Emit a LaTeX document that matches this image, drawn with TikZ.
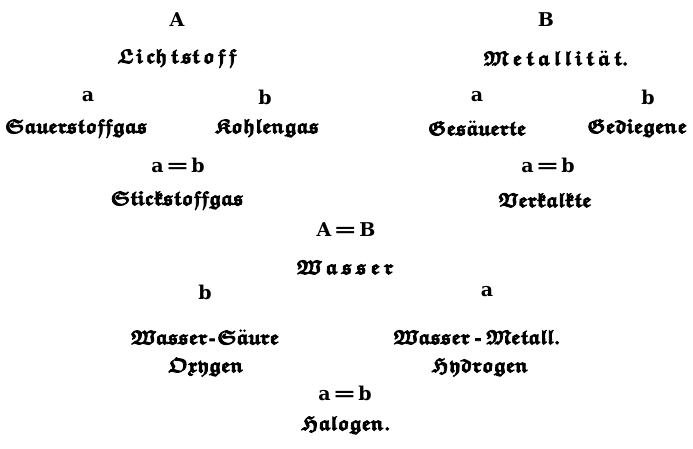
\documentclass[tikz,border=0pt]{standalone}
\usepackage{fontspec}
\usepackage{graphicx}
\usepackage{tikz}
\newfontfamily\lettfont{DejaVu Serif}

\newcommand{\frakfont}{\usefont{U}{euf}{b}{n}}
\newcommand{\heavy}[1]{\special{pdf:literal direct 2 Tr 0.8 w}#1\special{pdf:literal direct 0 Tr}}
\newcommand{\hyph}{\kern1.5pt{\fontsize{16}{20}\lettfont\bfseries-}\kern1.5pt}
\newcommand{\eq}{\kern2pt\scalebox{1.5}[1]{=}\kern2pt}
\tikzset{
  frak/.style={font=\fontsize{20}{24}\frakfont, inner sep=0pt},
  lett/.style={font=\fontsize{19}{23}\lettfont\bfseries, inner sep=0pt}
}
\newcommand{\lsp}{\kern3pt}

\begin{document}
\begin{tikzpicture}[x=1pt,y=-1pt]
\useasboundingbox (0,0) rectangle (693,449);
% Lichtstoff
\node[lett] (capA) at (177,20) {A};
\node[frak] (licht) at (177,58) {\heavy{L\lsp i\lsp ch\lsp t\lsp st\lsp o\lsp f\lsp f}};
\node[lett] (la) at (88,97) {a};
\node[lett] (lb) at (265,97) {b};
\node[frak] (sauer) at (76,128) {\heavy{Sauerstoffgas}};
\node[frak] (kohle) at (267,128) {\heavy{Kohlengas}};
\node[lett] (lab) at (178,165) {a\eq b};
\node[frak] (stick) at (177,200) {\heavy{Stickstoffgas}};
% Metallitaet
\node[lett] (capB) at (546,20) {B};
\node[frak] (metal) at (556,58) {\heavy{M\kern4pt e\kern4pt t\kern4pt a\kern4pt l\kern4pt l\kern4pt i\kern4pt t\kern4pt \"a\kern4pt t.}};
\node[lett] (ma) at (477,97) {a};
\node[lett] (mb) at (648,97) {b};
\node[frak] (gesae) at (477,128) {\heavy{Ges\"auerte}};
\node[frak] (gedie) at (637,128) {\heavy{Gediegene}};
\node[lett] (mab) at (548,165) {a\eq b};
\node[frak] (verka) at (545,200) {\heavy{Verkalkte}};
% Wasser
\node[lett] (wAB) at (346,230) {A\eq B};
\node[frak] (wass) at (345,267) {\heavy{W\kern4pt a\kern4pt s\kern4pt s\kern4pt e\kern4pt r}};
\node[lett] (wb) at (205,292) {b};
\node[lett] (wa) at (487,292) {a};
\node[frak] (wsaeu) at (205,337) {\heavy{Wasser\hyph S\"aure}};
\node[frak] (wmeta) at (477,337) {\heavy{Wasser\,\hyph\,Metall.}};
\node[frak] (oxy) at (206,367) {\heavy{Oxygen}};
\node[frak] (hydro) at (480,367) {\heavy{Hydrogen}};
\node[lett] (wab) at (345,393) {a\eq b};
\node[frak] (halo) at (346,425) {\heavy{Halogen.}};
\end{tikzpicture}
\end{document}
